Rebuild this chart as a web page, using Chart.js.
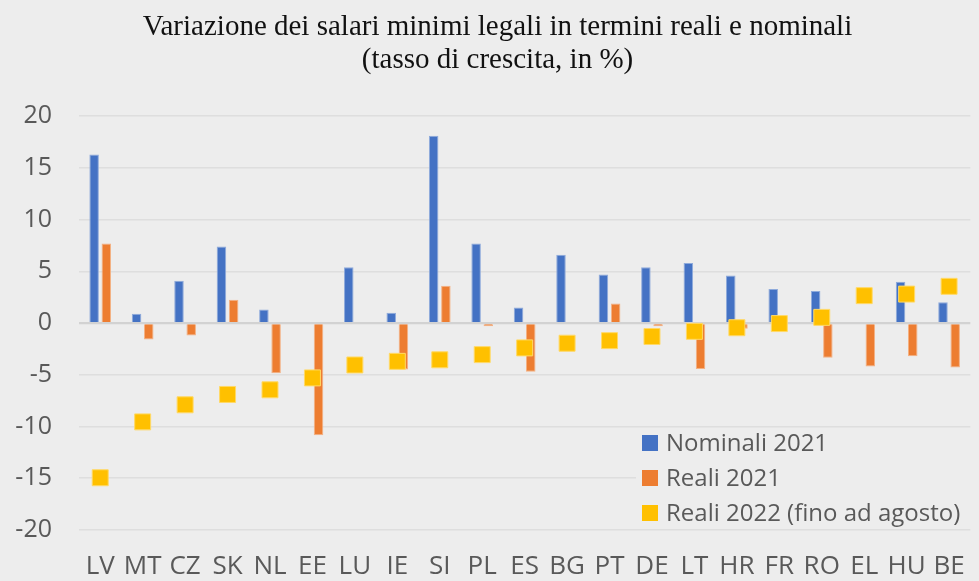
<!DOCTYPE html>
<html>
<head>
<meta charset="utf-8">
<script src="https://cdn.jsdelivr.net/npm/chart.js@4"></script>
<style>
  html, body { margin: 0; padding: 0; background: #ededed; overflow: hidden; }
  #wrap { position: relative; width: 986px; height: 581px; }
</style>
</head>
<body>
<div id="wrap"><canvas id="chart"></canvas></div>
<script>
const categories = ["LV", "MT", "CZ", "SK", "NL", "EE", "LU", "IE", "SI", "PL", "ES",
  "BG", "PT", "DE", "LT", "HR", "FR", "RO", "EL", "HU", "BE"];
const nominali2021 = [16.3, 0.9, 4.1, 7.4, 1.3, null, 5.4, 1.0, 18.1, 7.7, 1.5,
  6.6, 4.7, 5.4, 5.8, 4.6, 3.3, 3.1, null, 4.0, 2.0];
const reali2021 = [7.7, -1.6, -1.2, 2.25, -4.85, -10.85, null, -4.5, 3.6, -0.3, -4.7,
  null, 1.9, -0.3, -4.45, -0.55, null, -3.35, -4.2, -3.2, -4.3];
const reali2022 = [-14.95, -9.55, -7.9, -6.9, -6.45, -5.3, -4.05, -3.7, -3.55, -3.05, -2.4,
  -1.95, -1.7, -1.3, -0.8, -0.45, -0.05, 0.55, 2.65, 2.8, 3.55];
const seriesNames = ["Nominali 2021", "Reali 2021", "Reali 2022 (fino ad agosto)"];
const titleLines = ["Variazione dei salari minimi legali in termini reali e nominali", "(tasso di crescita, in %)"];
const yMin = -20, yMax = 20, yStep = 5;

const grey = "#595959";

// legend sits inside the plot, lower right, on a background box
const boxLegend = {
  id: "boxLegend",
  afterDatasetsDraw(chart) {
    const ctx = chart.ctx;
    ctx.save();
    ctx.fillStyle = "#ededed";
    ctx.fillRect(636, 429, 336, 98);
    ctx.font = '24px "Open Sans"';
    ctx.textBaseline = "middle";
    chart.data.datasets.forEach((ds, i) => {
      const y = 443 + i * 35;
      ctx.fillStyle = ds.backgroundColor;
      ctx.fillRect(642, y - 8, 16, 16);
      ctx.fillStyle = grey;
      ctx.fillText(ds.label, 666, y + 1);
    });
    ctx.restore();
  }
};

const ctx = document.getElementById("chart").getContext("2d");
new Chart(ctx, {
  type: "bar",
  data: {
    labels: categories,
    datasets: [
      {
        label: seriesNames[0],
        data: nominali2021,
        backgroundColor: "#4472c4",
        borderColor: "#8eaadb",
        borderWidth: 1,
        barPercentage: 0.78,
        categoryPercentage: 0.575,
        order: 1
      },
      {
        label: seriesNames[1],
        data: reali2021,
        backgroundColor: "#ed7d31",
        borderColor: "#f4b183",
        borderWidth: 1,
        barPercentage: 0.78,
        categoryPercentage: 0.575,
        order: 1
      },
      {
        type: "line",
        label: seriesNames[2],
        data: reali2022,
        showLine: false,
        pointStyle: "rect",
        pointRadius: 11.3,
        pointHoverRadius: 11.3,
        pointBackgroundColor: "#ffc000",
        pointBorderColor: "#ffd966",
        pointBorderWidth: 1,
        backgroundColor: "#ffc000",
        order: -1
      }
    ]
  },
  options: {
    responsive: true,
    maintainAspectRatio: false,
    animation: false,
    layout: { padding: { left: 9, right: 0, top: 0, bottom: 0 } },
    plugins: {
      legend: { display: false },
      tooltip: { enabled: false },
      title: {
        display: true,
        text: titleLines,
        color: "#111",
        font: { family: '"Liberation Serif", "Times New Roman", serif', size: 29, weight: "normal", lineHeight: 1.14 },
        padding: { top: 11, bottom: 39 }
      }
    },
    scales: {
      x: {
        grid: { display: false, drawTicks: false },
        border: { display: false },
        ticks: {
          color: grey,
          font: { family: '"Open Sans"', size: 26 },
          padding: 21,
          autoSkip: false,
          maxRotation: 0
        },
        afterFit: (s) => { s.height = 51; }
      },
      y: {
        min: yMin,
        max: yMax,
        border: { display: false },
        grid: {
          drawTicks: false,
          color: (c) => (c.tick && c.tick.value === 0 ? "#d2d2d2" : "#dedede"),
          lineWidth: (c) => (c.tick && c.tick.value === 0 ? 2.2 : 1.6)
        },
        ticks: {
          stepSize: yStep,
          color: grey,
          font: { family: '"Open Sans"', size: 25 },
          padding: 27
        },
        afterFit: (s) => { s.width = 70; }
      }
    }
  },
  plugins: [boxLegend]
});
</script>
</body>
</html>
